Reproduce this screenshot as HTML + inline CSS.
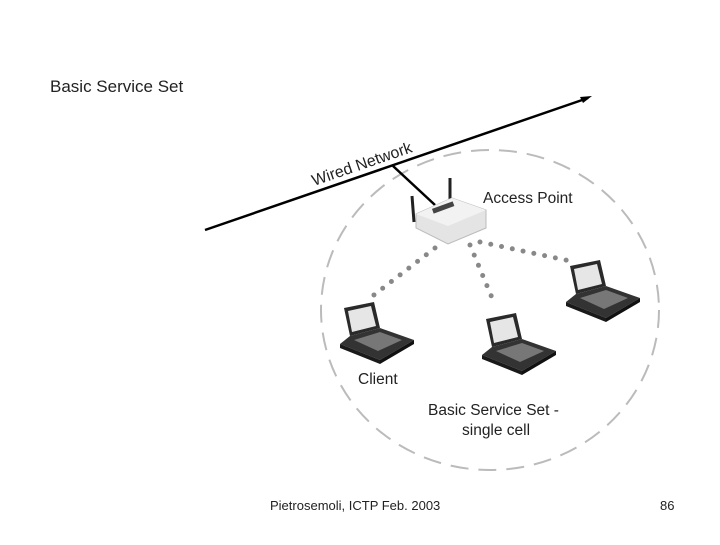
<!DOCTYPE html>
<html><head><style>
html,body{margin:0;padding:0;background:#fff;}
body{width:720px;height:540px;overflow:hidden;font-family:"Liberation Sans",sans-serif;}
</style></head><body>
<svg width="720" height="540" xmlns="http://www.w3.org/2000/svg" font-family="Liberation Sans, sans-serif">
<defs>
<g id="lap">
<polygon points="4,6 34,0 40,26 10,34" fill="#2a2a2a"/>
<polygon points="8,9 31,4 36,24 12,30" fill="#e6e6e6"/>
<polygon points="10,34 40,26 74,38 40,58 0,42" fill="#333"/>
<polygon points="14,38 40,30 62,38 38,49" fill="#777"/>
<polygon points="0,42 40,58 40,62 0,46" fill="#1a1a1a"/>
<polygon points="40,58 74,38 74,42 40,62" fill="#111"/>
</g>
</defs>
<text x="50" y="92" font-size="17" fill="#222">Basic Service Set</text>
<ellipse cx="490" cy="310" rx="169" ry="160" fill="none" stroke="#bbb" stroke-width="2" stroke-dasharray="18,10"/>
<line x1="205" y1="230" x2="588" y2="98" stroke="#000" stroke-width="2.5"/>
<polygon points="592,96 580,97 583,103" fill="#000"/>
<line x1="393" y1="166" x2="435" y2="205" stroke="#000" stroke-width="2.5"/>
<text x="0" y="0" font-size="16" fill="#222" transform="translate(314,186) rotate(-19)">Wired Network</text>
<text x="483" y="203" font-size="15.5" fill="#222">Access Point</text>
<g stroke="#888" stroke-width="5" stroke-linecap="round" stroke-dasharray="0,11" fill="none">
<line x1="435" y1="248" x2="370" y2="298"/>
<line x1="470" y1="245" x2="495" y2="305"/>
<line x1="480" y1="242" x2="575" y2="262"/>
</g>
<line x1="412" y1="196" x2="414" y2="222" stroke="#222" stroke-width="3"/>
<line x1="450" y1="178" x2="450" y2="202" stroke="#222" stroke-width="3"/>
<polygon points="416,214 452,198 486,210 486,228 448,244 416,228" fill="#e4e4e4" stroke="#bbb"/>
<polygon points="416,214 452,198 486,210 448,226" fill="#f2f2f2"/>
<rect x="432" y="205" width="22" height="5" fill="#444" transform="rotate(-20 443 207)"/>
<use href="#lap" x="340" y="302"/>
<use href="#lap" x="482" y="313"/>
<use href="#lap" x="566" y="260"/>
<text x="358" y="384" font-size="15.5" fill="#222">Client</text>
<text x="428" y="415" font-size="15.5" fill="#222">Basic Service Set -</text>
<text x="462" y="435" font-size="15.5" fill="#222">single cell</text>
<text x="270" y="510" font-size="13" fill="#222">Pietrosemoli, ICTP Feb. 2003</text>
<text x="660" y="510" font-size="13" fill="#222">86</text>
</svg>
</body></html>
